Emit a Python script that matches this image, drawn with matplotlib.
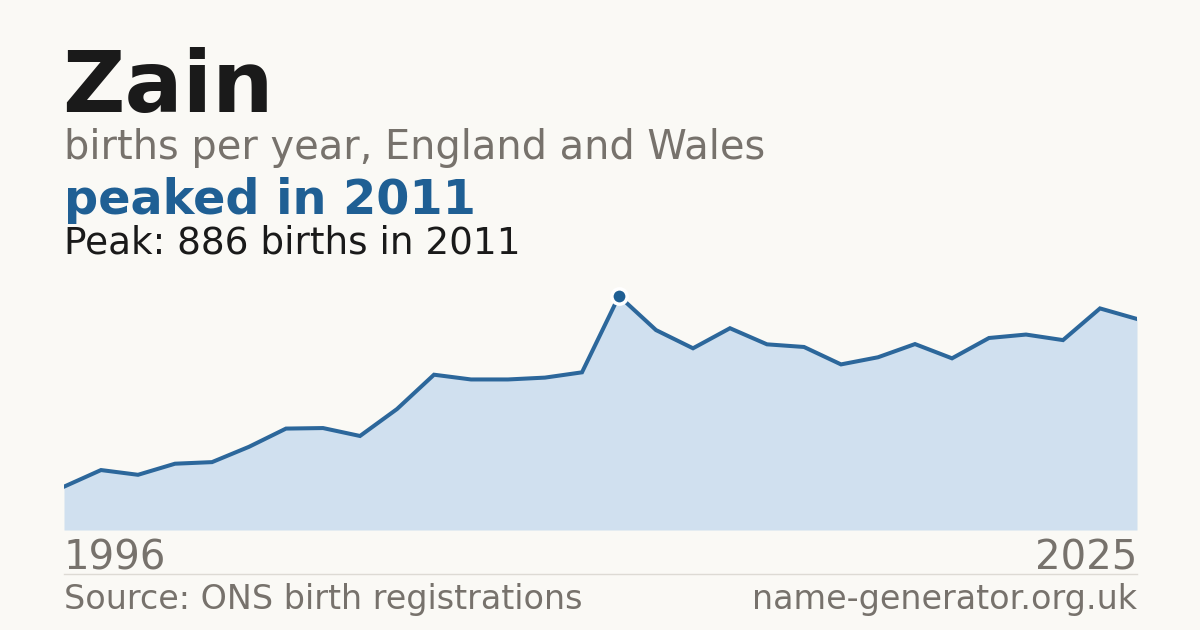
import matplotlib
matplotlib.use("Agg")
import matplotlib.pyplot as plt

# births per year for "Zain"
years = list(range(1996, 2026))
births = [164, 227, 209, 251, 257, 315, 384, 386, 356, 458,
          588, 570, 570, 577, 597, 886, 757, 688, 764, 703,
          693, 627, 654, 704, 650, 727, 740, 719, 839, 799]

name = "Zain"
subtitle = "births per year, England and Wales"
headline = "peaked in 2011"
peak_note = "Peak: 886 births in 2011"
source = "Source: ONS birth registrations"
site = "name-generator.org.uk"

BG = "#faf9f5"
DARK = "#1a1a1a"
GREY = "#77726c"
BLUE = "#1f5f94"
FILL = "#d0e0ef"

W, H = 1200, 630
fig = plt.figure(figsize=(W / 100, H / 100), dpi=100, facecolor=BG)


def fy(py):
    return 1 - py / H


def fx(px):
    return px / W


# plot area: x from 64 to 1137 px, baseline at 530 px, peak at 296 px
ax = fig.add_axes([fx(64), fy(530), fx(1137) - fx(64), (530 - 296) / H])
ax.set_facecolor("none")
ax.fill_between(years, births, 0, color=FILL, lw=0)
ax.plot(years, births, color="#2c679b", lw=2.9, solid_joinstyle="miter")
peak_i = births.index(max(births))
ax.plot(years[peak_i], births[peak_i], "o", ms=11, mfc=BLUE, mec="white",
        mew=2.5, clip_on=False, zorder=5)
ax.set_xlim(years[0], years[-1])
ax.set_ylim(0, max(births))
ax.axis("off")

fig.text(fx(62), fy(112), name, fontsize=62, fontweight="bold", color=DARK, va="baseline")
fig.text(fx(64), fy(159), subtitle, fontsize=28.7, color=GREY, va="baseline")
fig.text(fx(64), fy(214), headline, fontsize=34.4, fontweight="bold", color=BLUE, va="baseline")
fig.text(fx(64), fy(253), peak_note, fontsize=26.9, color=DARK, va="baseline")

fig.text(fx(64), fy(569), str(years[0]), fontsize=29, color=GREY, va="baseline")
fig.text(fx(1137), fy(569), str(years[-1]), fontsize=29, color=GREY, va="baseline", ha="right")

fig.add_artist(plt.Line2D([fx(64), fx(1137)], [fy(574), fy(574)], color="#dddad4", lw=1))

fig.text(fx(64), fy(609), source, fontsize=24, color=GREY, va="baseline")
fig.text(fx(1137), fy(609), site, fontsize=24, color=GREY, va="baseline", ha="right")

fig.savefig("out.png", dpi=100, facecolor=BG)
